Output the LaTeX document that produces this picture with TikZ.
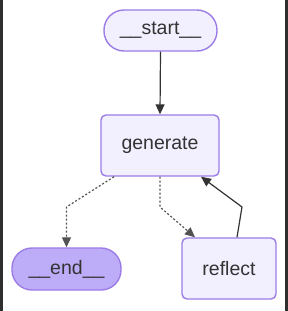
\documentclass[tikz,border=0pt]{standalone}
\usepackage{fontspec}
\setmainfont{Liberation Sans}
\usetikzlibrary{arrows.meta}
\definecolor{nodefill}{HTML}{F2F0FF}
\definecolor{nodeborder}{HTML}{9C7CE6}
\definecolor{endfill}{HTML}{BDACF8}
\definecolor{ink}{HTML}{333333}
\definecolor{framecol}{HTML}{2E2E2E}
\begin{document}
\begin{tikzpicture}[x=1pt,y=-1pt,
  box/.style={draw=nodeborder, line width=1.4pt, fill=nodefill, text=ink,
    font=\fontsize{19.5}{22}\selectfont, inner sep=0pt, rounded corners=5pt},
  pill/.style={box, rounded corners=20pt},
  tip/.style={-{Triangle[length=10pt,width=9pt]}},
  solidedge/.style={tip, draw=ink, line width=1.2pt},
  dotedge/.style={tip, draw=ink!85, line width=1.2pt, dash pattern=on 2pt off 2pt}
]
\fill[white] (0,0) rectangle (288,311);
\fill[framecol] (0,0) rectangle (3,311);
\fill[framecol] (285,0) rectangle (288,311);
\useasboundingbox (0,0) rectangle (288,311);

\node[pill, minimum width=113pt, minimum height=41pt] (start) at (160.5,30.5) {\_\_start\_\_};
\node[box, minimum width=118pt, minimum height=61pt] (generate) at (160,145.5) {generate};
\node[pill, fill=endfill, minimum width=109pt, minimum height=42pt] (end) at (66.5,269) {\_\_end\_\_};
\node[box, minimum width=94pt, minimum height=61pt] (reflect) at (229,268.5) {reflect};

\coordinate (b1) at (66.5,207);
\coordinate (b2) at (160,207);
\coordinate (b3) at (242,207);

\draw[solidedge] (start.south) -- (generate.north);
\draw[dotedge] ([xshift=-46pt]generate.south) -- (b1) -- (end.north);
\draw[dotedge] (generate.south) -- (b2) -- ([xshift=-34pt]reflect.north);
\draw[solidedge] ([xshift=8pt]reflect.north) -- (b3) -- ([xshift=41pt]generate.south);
\end{tikzpicture}
\end{document}
